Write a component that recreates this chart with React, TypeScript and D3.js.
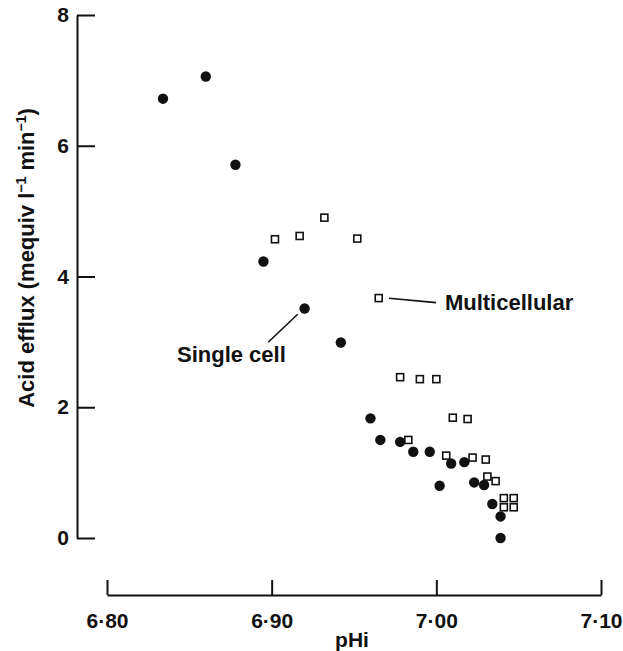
import { useEffect, useRef } from "react";
import * as d3 from "d3";

// single cell (filled circles)
const singleCellPH = [
  6.834, 6.86, 6.878, 6.895, 6.92, 6.942, 6.96, 6.966, 6.978, 6.986, 6.996,
  7.002, 7.009, 7.017, 7.023, 7.029, 7.034, 7.039, 7.039,
];
const singleCellEfflux = [
  6.72, 7.06, 5.71, 4.23, 3.51, 2.99, 1.83, 1.5, 1.47, 1.32, 1.32, 0.8, 1.14,
  1.16, 0.85, 0.81, 0.52, 0.33, 0.0,
];

// multicellular (open squares)
const multiPH = [
  6.902, 6.917, 6.932, 6.952, 6.965, 6.978, 6.99, 7.0, 7.01, 7.019, 6.983,
  7.006, 7.022, 7.03, 7.031, 7.036, 7.041, 7.047, 7.041, 7.047,
];
const multiEfflux = [
  4.57, 4.62, 4.9, 4.58, 3.67, 2.46, 2.43, 2.43, 1.84, 1.82, 1.5, 1.26, 1.23,
  1.2, 0.94, 0.87, 0.61, 0.61, 0.47, 0.47,
];

const xTicks = [6.8, 6.9, 7.0, 7.1];
const xTickLabels = ["6·80", "6·90", "7·00", "7·10"];
const yTicks = [0, 2, 4, 6, 8];

export default function App() {
  const svgRef = useRef<SVGSVGElement>(null);

  useEffect(() => {
    const width = 623;
    const height = 651;
    const font = "'Liberation Sans', Arial, sans-serif";

    const svg = d3.select(svgRef.current);
    svg.selectAll("*").remove();
    svg.attr("viewBox", `0 0 ${width} ${height}`);

    const x = d3.scaleLinear().domain([6.8, 7.1]).range([107, 601]);
    const y = d3.scaleLinear().domain([0, 8]).range([538, 15]);

    // y axis, ticks pointing inward, detached from x axis
    const yAxis = svg
      .append("g")
      .attr("transform", "translate(77,0)")
      .call(
        d3
          .axisLeft(y)
          .tickValues(yTicks)
          .tickSizeInner(-18)
          .tickSizeOuter(0)
          .tickPadding(8)
          .tickFormat(d3.format("d"))
      );

    // x axis, ticks pointing up
    const xAxis = svg
      .append("g")
      .attr("transform", "translate(0,595)")
      .call(
        d3
          .axisBottom(x)
          .tickValues(xTicks)
          .tickSizeInner(-15)
          .tickSizeOuter(0)
          .tickPadding(18)
          .tickFormat((d, i) => xTickLabels[i])
      );

    [yAxis, xAxis].forEach((g) => {
      g.select(".domain").attr("stroke", "#111").attr("stroke-width", 2);
      g.selectAll(".tick line").attr("stroke", "#111").attr("stroke-width", 2);
      g.selectAll(".tick text")
        .attr("fill", "#111")
        .style("font-family", font)
        .style("font-size", "21px")
        .style("font-weight", "bold");
    });

    // axis titles
    svg
      .append("text")
      .attr("x", 352)
      .attr("y", 647)
      .attr("text-anchor", "middle")
      .style("font-family", font)
      .style("font-size", "21px")
      .style("font-weight", "bold")
      .attr("fill", "#111")
      .text("pHi");

    const yTitle = svg
      .append("text")
      .attr("transform", "translate(34,258) rotate(-90)")
      .attr("text-anchor", "middle")
      .style("font-family", font)
      .style("font-size", "22px")
      .style("font-weight", "bold")
      .attr("fill", "#111");
    yTitle.append("tspan").text("Acid efflux (mequiv l");
    yTitle.append("tspan").attr("dy", -8).style("font-size", "14px").text("−1");
    yTitle.append("tspan").attr("dy", 8).text(" min");
    yTitle.append("tspan").attr("dy", -8).style("font-size", "14px").text("−1");
    yTitle.append("tspan").attr("dy", 8).text(")");

    // multicellular squares
    const multi = multiPH.map((ph, i) => ({ ph, v: multiEfflux[i] }));
    const side = 7;
    svg
      .append("g")
      .selectAll("rect")
      .data(multi)
      .join("rect")
      .attr("x", (d) => x(d.ph) - side / 2)
      .attr("y", (d) => y(d.v) - side / 2)
      .attr("width", side)
      .attr("height", side)
      .attr("fill", "#fff")
      .attr("stroke", "#111")
      .attr("stroke-width", 1.6);

    // single cell circles
    const single = singleCellPH.map((ph, i) => ({ ph, v: singleCellEfflux[i] }));
    svg
      .append("g")
      .selectAll("circle")
      .data(single)
      .join("circle")
      .attr("cx", (d) => x(d.ph))
      .attr("cy", (d) => y(d.v))
      .attr("r", 5.2)
      .attr("fill", "#111");

    // annotations
    svg
      .append("line")
      .attr("x1", x(6.9713))
      .attr("y1", y(3.668))
      .attr("x2", x(6.9998))
      .attr("y2", y(3.601))
      .attr("stroke", "#111")
      .attr("stroke-width", 1.6);
    svg
      .append("text")
      .attr("x", x(7.0052))
      .attr("y", y(3.48))
      .style("font-family", font)
      .style("font-size", "22px")
      .style("font-weight", "bold")
      .attr("fill", "#111")
      .text("Multicellular");

    svg
      .append("line")
      .attr("x1", x(6.8979))
      .attr("y1", y(2.994))
      .attr("x2", x(6.9158))
      .attr("y2", y(3.422))
      .attr("stroke", "#111")
      .attr("stroke-width", 1.6);
    svg
      .append("text")
      .attr("x", x(6.8425))
      .attr("y", y(2.69))
      .style("font-family", font)
      .style("font-size", "22px")
      .style("font-weight", "bold")
      .attr("fill", "#111")
      .text("Single cell");
  }, []);

  return (
    <svg
      ref={svgRef}
      width={623}
      height={651}
      style={{ position: "absolute", left: 0, top: 0, background: "#fff" }}
    />
  );
}
